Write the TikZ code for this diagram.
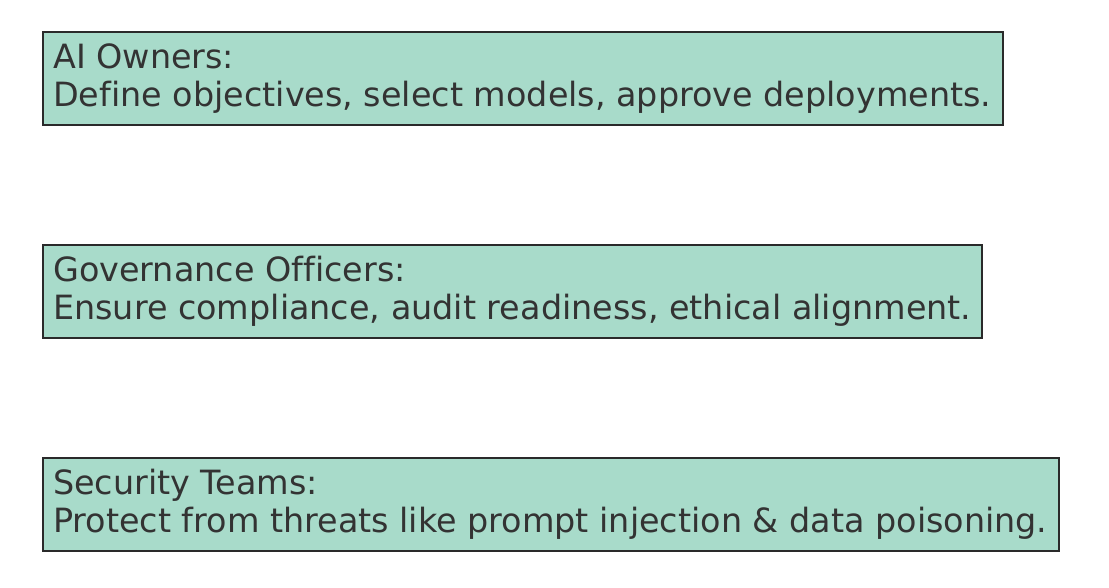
\documentclass[tikz,border=0pt]{standalone}
\usepackage{fontspec}
\setmainfont[RawFeature={-liga}]{DejaVu Sans}
\definecolor{boxfill}{HTML}{A8DBCA}
\definecolor{boxline}{HTML}{2A2A2A}
\definecolor{txt}{HTML}{333333}
\begin{document}
\begin{tikzpicture}[x=1pt,y=-1pt,
  rolebox/.style={draw=boxline, line width=2.2pt, fill=boxfill, anchor=north west,
    inner sep=0pt, minimum height=93pt},
  roletext/.style={anchor=base west, inner sep=0pt, text=txt,
    font=\fontsize{33.4}{38}\selectfont}]
\useasboundingbox (0,0) rectangle (1109,587);
\node[rolebox, minimum width=960pt] (b1) at (42,31) {};
\node[rolebox, minimum width=939pt] (b2) at (42,244) {};
\node[rolebox, minimum width=1016pt] (b3) at (42,457) {};
\node[roletext] (t1a) at (53,68) {AI Owners:};
\node[roletext] (t1b) at (53,106) {Define objectives, select models, approve deployments.};
\node[roletext] (t2a) at (53,281) {Governance Officers:};
\node[roletext] (t2b) at (53,319) {Ensure compliance, audit readiness, ethical alignment.};
\node[roletext] (t3a) at (53,494) {Security Teams:};
\node[roletext] (t3b) at (53,532) {Protect from threats like prompt injection \& data poisoning.};
\end{tikzpicture}
\end{document}
